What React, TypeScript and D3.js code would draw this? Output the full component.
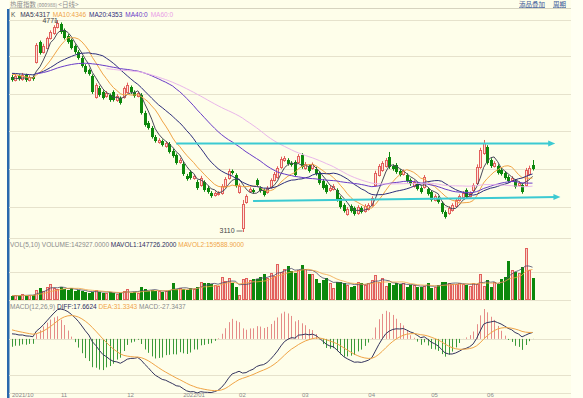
import * as d3 from 'd3'

// closes before the first visible candle (only feed the moving averages)
const histClose = [
  4330, 4345, 4352, 4338, 4326, 4341, 4355, 4348, 4333, 4327, 4344, 4350, 4339,
  4352, 4365, 4371, 4358, 4349, 4362, 4374, 4366, 4355, 4348,
  4368, 4382, 4379, 4370, 4376,
  4345, 4328, 4312, 4299,
]

const open = [
  4325, 4301, 4332, 4309, 4340, 4301, 4325, 4442, 4599, 4520,
  4552, 4630, 4669, 4716, 4740, 4693, 4646, 4614, 4568, 4520,
  4473, 4411, 4379, 4332, 4168, 4238, 4207, 4176, 4184, 4207,
  4144, 4160, 4168, 4207, 4246, 4207, 4176, 4184, 4043, 3964,
  3925, 3855, 3815, 3823, 3784, 3800, 3745, 3714, 3659, 3643,
  3549, 3580, 3533, 3502, 3478, 3502, 3455, 3416, 3400, 3408,
  3416, 3471, 3533, 3588, 3557, 3424, 3142, 3345, 3431, 3439,
  3518, 3455, 3439, 3424, 3463, 3518, 3541, 3620, 3674, 3674,
  3651, 3659, 3659, 3714, 3612, 3627, 3612, 3604, 3573, 3510,
  3478, 3439, 3447, 3439, 3377, 3322, 3251, 3314, 3298, 3259,
  3298, 3275, 3290, 3322, 3478, 3557, 3596, 3627, 3698, 3627,
  3635, 3588, 3565, 3557, 3518, 3471, 3486, 3455, 3463, 3447,
  3424, 3361, 3377, 3337, 3267, 3259, 3283, 3314, 3361, 3384,
  3439, 3392, 3439, 3494, 3620, 3729, 3776, 3674, 3627, 3627,
  3596, 3573, 3541, 3518, 3510, 3478, 3478, 3478, 3565, 3635,
]

const close = [
  4301, 4332, 4309, 4340, 4301, 4325, 4309, 4575, 4513, 4568,
  4630, 4677, 4716, 4748, 4677, 4630, 4599, 4552, 4520, 4473,
  4411, 4364, 4348, 4207, 4262, 4184, 4160, 4199, 4144, 4144,
  4176, 4121, 4238, 4262, 4207, 4176, 4199, 4043, 3949, 3925,
  3855, 3823, 3831, 3792, 3808, 3737, 3706, 3651, 3674, 3565,
  3525, 3533, 3549, 3455, 3533, 3439, 3424, 3392, 3416, 3416,
  3471, 3525, 3588, 3573, 3471, 3471, 3330, 3392, 3447, 3424,
  3478, 3431, 3400, 3455, 3518, 3565, 3612, 3682, 3690, 3643,
  3635, 3557, 3706, 3620, 3643, 3588, 3643, 3565, 3494, 3455,
  3424, 3455, 3471, 3361, 3306, 3275, 3290, 3275, 3251, 3306,
  3267, 3314, 3322, 3377, 3573, 3627, 3651, 3674, 3620, 3604,
  3580, 3557, 3588, 3510, 3486, 3502, 3447, 3424, 3541, 3408,
  3361, 3392, 3345, 3267, 3228, 3298, 3322, 3361, 3392, 3416,
  3384, 3416, 3478, 3620, 3753, 3808, 3651, 3627, 3651, 3573,
  3565, 3533, 3510, 3533, 3463, 3494, 3424, 3596, 3612, 3604,
]

const high = [
  4340, 4348, 4345, 4356, 4350, 4338, 4336, 4590, 4610, 4585,
  4640, 4690, 4730, 4771, 4752, 4705, 4660, 4625, 4580, 4535,
  4490, 4425, 4390, 4345, 4275, 4255, 4220, 4215, 4195, 4220,
  4190, 4172, 4250, 4280, 4258, 4220, 4212, 4198, 4060, 3980,
  3940, 3870, 3845, 3835, 3822, 3815, 3760, 3725, 3690, 3660,
  3565, 3595, 3560, 3518, 3550, 3515, 3470, 3430, 3428, 3430,
  3485, 3540, 3605, 3600, 3570, 3490, 3361, 3405, 3460, 3452,
  3530, 3468, 3450, 3470, 3530, 3580, 3625, 3700, 3705, 3688,
  3665, 3672, 3720, 3728, 3658, 3640, 3655, 3620, 3585, 3525,
  3490, 3470, 3485, 3452, 3390, 3335, 3305, 3326, 3310, 3320,
  3312, 3328, 3336, 3390, 3590, 3642, 3665, 3690, 3737, 3640,
  3650, 3602, 3600, 3570, 3530, 3515, 3500, 3468, 3556, 3460,
  3436, 3405, 3390, 3350, 3280, 3312, 3335, 3375, 3405, 3430,
  3452, 3428, 3492, 3640, 3770, 3831, 3790, 3688, 3665, 3640,
  3610, 3588, 3555, 3548, 3522, 3508, 3492, 3612, 3630, 3674,
]

const low = [
  4288, 4290, 4296, 4295, 4286, 4290, 4295, 4430, 4500, 4508,
  4540, 4618, 4655, 4705, 4662, 4618, 4585, 4540, 4505, 4460,
  4398, 4350, 4335, 4192, 4155, 4170, 4148, 4162, 4130, 4132,
  4130, 4108, 4155, 4195, 4192, 4162, 4165, 4030, 3935, 3912,
  3842, 3810, 3802, 3780, 3770, 3725, 3692, 3638, 3645, 3550,
  3512, 3520, 3520, 3440, 3465, 3425, 3410, 3378, 3388, 3395,
  3402, 3458, 3520, 3560, 3458, 3410, 3110, 3332, 3418, 3410,
  3465, 3418, 3388, 3410, 3450, 3505, 3528, 3605, 3660, 3630,
  3622, 3545, 3645, 3605, 3598, 3575, 3598, 3552, 3480, 3442,
  3410, 3425, 3435, 3348, 3292, 3262, 3238, 3262, 3238, 3245,
  3255, 3262, 3278, 3308, 3465, 3545, 3582, 3615, 3605, 3590,
  3566, 3545, 3552, 3498, 3472, 3458, 3435, 3410, 3450, 3395,
  3348, 3350, 3332, 3252, 3215, 3245, 3270, 3300, 3348, 3372,
  3370, 3380, 3425, 3480, 3605, 3715, 3638, 3612, 3615, 3560,
  3552, 3520, 3496, 3505, 3450, 3465, 3410, 3465, 3552, 3592,
]

// volume, thousands
const volHist = [176.4, 168.9, 182.3, 159.7, 169.958, 152.6, 139.8, 155.1, 148.204]
const volume = [
  142.927, 190, 150, 238, 145, 192, 188, 428, 524, 381,
  571, 714, 524, 476, 571, 476, 428, 524, 381, 428,
  381, 333, 286, 333, 428, 333, 286, 290, 333, 286,
  238, 286, 381, 476, 286, 333, 290, 571, 476, 381,
  428, 381, 385, 333, 381, 428, 762, 476, 524, 476,
  428, 524, 476, 571, 809, 762, 765, 714, 666, 619,
  1047, 857, 1000, 762, 571, 190, 952, 1000, 904, 952,
  955, 1047, 1190, 1000, 1238, 1095, 1666, 1285, 1428, 1571,
  1333, 1238, 1380, 1618, 1428, 1190, 1192, 952, 762, 904,
  1000, 762, 524, 809, 812, 762, 666, 571, 619, 809,
  762, 666, 762, 904, 1142, 809, 1000, 619, 762, 666,
  765, 714, 762, 571, 666, 670, 571, 575, 619, 762,
  524, 571, 666, 809, 812, 762, 714, 716, 762, 714,
  666, 619, 762, 714, 1190, 619, 904, 571, 809, 714,
  952, 1047, 1809, 1380, 1285, 1238, 1523, 2428, 1380, 1000,
]

const monthLabels = ['2021/10', '11', '12', '2022/01', '02', '03', '04', '05', '06']
const monthIdx = [0, 14, 33, 49, 65, 83, 102, 120, 136]

// hand-drawn support / resistance arrows: [startIndex, startPrice, endIndex, endPrice]
const trendLines = [
  [47, 3803, 155.5, 3803],
  [69, 3353, 157, 3384],
]

const MACD_START = { ema12: 4330, diff: 17.6624, dea: 31.3343 }

const maDefs = [
  { n: 5, color: '#4a4a5a', label: 'MA5:4317' },
  { n: 10, color: '#f0a446', label: 'MA10:4346' },
  { n: 20, color: '#2e2e7c', label: 'MA20:4353' },
  { n: 40, color: '#6a3cc8', label: 'MA40:0' },
  { n: 60, color: '#eab6ea', label: 'MA60:0' },
]

const FONT = '"Liberation Sans", Arial, sans-serif'
const CJK = '"Noto Sans CJK SC", sans-serif'
const RED = '#e2605c'
const RED_FILL = '#fde4dc'
const GREEN = '#0c880c'
const GRID = '#e6e2cc'

function movingAvg(hist: number[], vals: number[], n: number) {
  const all = [...hist, ...vals]
  return vals.map((_, i) => {
    const k = i + hist.length
    if (k < n - 1) return null
    return d3.mean(all.slice(k - n + 1, k + 1)) as number
  })
}

export default function App() {
  const N = close.length
  const x = d3.scaleLinear().domain([0, N - 1]).range([12, 532.5])
  const yP = d3.scaleLinear().domain([d3.min(low)!, d3.max(high)!]).range([232, 20])
  const yV = d3.scaleLinear().domain([0, 3000]).range([299, 236])

  // MACD(12,26,9)
  let e12 = MACD_START.ema12
  let e26 = MACD_START.ema12 - MACD_START.diff
  let dea = MACD_START.dea
  const diffs: number[] = []
  const deas: number[] = []
  const bars: number[] = []
  close.forEach((c, i) => {
    if (i > 0) {
      e12 = (2 * c + 11 * e12) / 13
      e26 = (2 * c + 25 * e26) / 27
      dea = (2 * (e12 - e26) + 8 * dea) / 10
    }
    diffs.push(e12 - e26)
    deas.push(dea)
    bars.push(2 * (e12 - e26 - dea))
  })
  const mExt = d3.extent([...diffs, ...deas, ...bars]) as [number, number]
  const yM = d3.scaleLinear().domain(mExt).range([393, 309])

  const priceLine = d3
    .line<number | null>()
    .defined((d) => d != null)
    .x((_, i) => x(i))
    .y((d) => yP(d as number))
  const maPaths = maDefs.map((m) => ({ ...m, d: priceLine(movingAvg(histClose, close, m.n)) || '' }))
  const volLine = d3
    .line<number | null>()
    .defined((d) => d != null)
    .x((_, i) => x(i))
    .y((d) => yV(d as number))
  const mavol1 = volLine(movingAvg(volHist, volume, 5)) || ''
  const mavol2 = volLine(movingAvg(volHist, volume, 10)) || ''
  const macdLine = d3
    .line<number>()
    .x((_, i) => x(i))
    .y((d) => yM(d))

  const hiIdx = d3.maxIndex(high)
  const loIdx = d3.minIndex(low)
  const gridYs = [20.5, 56.5, 94.5, 131.5, 169.5, 207.5, 238.5, 272.5, 300.5, 375.5, 393.5]

  return (
    <svg width={583} height={398} style={{ position: 'fixed', left: 0, top: 0 }}>
      <rect width={583} height={398} fill="#fffff2" />
      <rect x={9} y={0} width={562} height={398} fill="#fefeea" />
      <rect x={7} y={9} width={2.5} height={389} fill="#2a68ad" />

      {/* title bar */}
      <text x={10} y={6.5} fontSize={6.5} fill="#8c8c8c" fontFamily={CJK}>
        热度指数<tspan fontSize={5}> (000988) </tspan>&lt;日线&gt;
      </text>
      <text x={519} y={6.5} fontSize={6.5} fill="#3b5a98" fontFamily={CJK} textDecoration="underline">
        添品叠加
      </text>
      <text x={553} y={6.5} fontSize={6.5} fill="#3b5a98" fontFamily={CJK} textDecoration="underline">
        周期
      </text>
      <line x1={9} x2={571} y1={8.5} y2={8.5} stroke="#d6d3bf" />

      {gridYs.map((gy) => (
        <line key={gy} x1={9} x2={571} y1={gy} y2={gy} stroke={GRID} />
      ))}
      <line x1={9} x2={571} y1={Math.round(yM(0)) + 0.5} y2={Math.round(yM(0)) + 0.5} stroke={GRID} />

      {/* candles */}
      {close.map((c, i) => {
        const o = open[i]
        const up = c >= o
        const cx = Math.round(x(i))
        const top = Math.round(yP(Math.max(o, c)))
        const bot = Math.round(yP(Math.min(o, c)))
        const hY = yP(high[i])
        const lY = yP(low[i])
        if (up) {
          return (
            <g key={i}>
              <line x1={cx + 0.5} x2={cx + 0.5} y1={hY} y2={top} stroke={RED} />
              <line x1={cx + 0.5} x2={cx + 0.5} y1={bot} y2={lY} stroke={RED} />
              <rect x={cx - 0.5} y={top + 0.5} width={2} height={Math.max(1, bot - top)} fill={RED_FILL} stroke={RED} />
            </g>
          )
        }
        return (
          <g key={i}>
            <line x1={cx + 0.5} x2={cx + 0.5} y1={hY} y2={lY} stroke={GREEN} />
            <rect x={cx - 1} y={top} width={3} height={Math.max(1, bot - top)} fill={GREEN} />
          </g>
        )
      })}

      {maPaths.map((m) => (
        <path key={m.n} d={m.d} fill="none" stroke={m.color} strokeWidth={1} />
      ))}

      {/* trend arrows */}
      {trendLines.map(([i0, p0, i1, p1], k) => {
        const x0 = x(i0)
        const x1 = x(i1)
        const y0 = yP(p0)
        const y1 = yP(p1)
        return (
          <g key={k}>
            <line x1={x0} y1={y0} x2={x1 - 4} y2={y1} stroke="#3ccad2" strokeWidth={2} />
            <path d={`M${x1},${y1} L${x1 - 7},${y1 - 3} L${x1 - 7},${y1 + 3} Z`} fill="#3ccad2" />
          </g>
        )
      })}

      {/* extreme labels */}
      <text x={x(hiIdx) - 15} y={yP(high[hiIdx]) + 3} fontSize={7} fill="#444" fontFamily={FONT}>
        {high[hiIdx]}
      </text>
      <line x1={x(hiIdx) - 3} x2={x(hiIdx)} y1={yP(high[hiIdx]) + 1} y2={yP(high[hiIdx]) + 1} stroke="#777" />
      <text x={x(loIdx) - 23} y={yP(low[loIdx]) + 1} fontSize={7} fill="#444" fontFamily={FONT}>
        {low[loIdx]}
      </text>
      <line x1={x(loIdx) - 6} x2={x(loIdx)} y1={yP(low[loIdx]) - 1} y2={yP(low[loIdx]) - 1} stroke="#777" />

      <text x={11} y={16.5} fontSize={6.5} fontFamily={FONT}>
        <tspan fill="#555">K </tspan>
        {maDefs.map((m) => (
          <tspan key={m.n} fill={m.n === 5 ? '#333355' : m.n === 60 ? '#e99de6' : m.color} dx={3}>
            {m.label}
          </tspan>
        ))}
      </text>

      {/* volume */}
      {volume.map((v, i) => {
        const up = close[i] >= open[i]
        const cx = Math.round(x(i))
        const top = Math.round(yV(v))
        const h = Math.max(1, 299 - top)
        return up ? (
          <rect key={i} x={cx - 0.5} y={top + 0.5} width={2} height={h} fill="#f6cfc6" stroke={RED} />
        ) : (
          <rect key={i} x={cx - 1} y={top} width={3} height={h + 1} fill={GREEN} />
        )
      })}
      <path d={mavol1} fill="none" stroke="#4a4a6a" strokeWidth={0.8} />
      <path d={mavol2} fill="none" stroke="#f0a446" strokeWidth={0.8} />
      <text x={10} y={246.5} fontSize={6.5} fontFamily={FONT}>
        <tspan fill="#8a8a8a">VOL(5,10) VOLUME:142927.0000 </tspan>
        <tspan fill="#2e2e5e">MAVOL1:147726.2000 </tspan>
        <tspan fill="#f0a446">MAVOL2:159588.9000</tspan>
      </text>

      {/* MACD */}
      {bars.map((b, i) => {
        const cx = Math.round(x(i)) + 0.5
        return (
          <line key={i} x1={cx} x2={cx} y1={yM(0)} y2={yM(b)} stroke={b >= 0 ? '#e58c88' : '#3a9a3a'} strokeWidth={1} />
        )
      })}
      <path d={macdLine(diffs) || ''} fill="none" stroke="#34345e" strokeWidth={1} />
      <path d={macdLine(deas) || ''} fill="none" stroke="#f0a446" strokeWidth={1} />
      <text x={10} y={308.5} fontSize={6.5} fontFamily={FONT}>
        <tspan fill="#8a8a8a">MACD(12,26,9) </tspan>
        <tspan fill="#2e2e5e">DIFF:17.6624 </tspan>
        <tspan fill="#f0a446">DEA:31.3343 </tspan>
        <tspan fill="#8a8a8a">MACD:-27.3437</tspan>
      </text>

      {monthLabels.map((m, k) => (
        <text key={m} x={x(monthIdx[k])} y={397} fontSize={6} fill="#8a8a8a" fontFamily={FONT}>
          {m}
        </text>
      ))}
    </svg>
  )
}
